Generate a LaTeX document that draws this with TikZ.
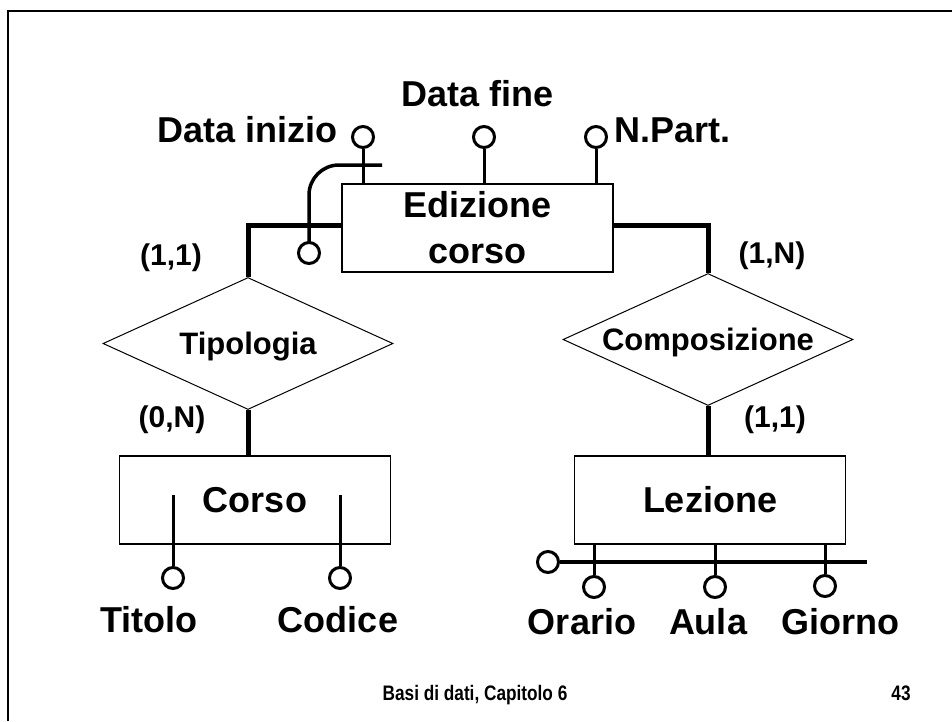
\documentclass[tikz,border=0pt]{standalone}
\usepackage{fontspec}
\setmainfont{Liberation Sans}
\newfontfamily\narrowfont{Liberation Sans}[FakeStretch=0.82]
\usetikzlibrary{shapes.geometric}
\begin{document}
\begin{tikzpicture}[x=1pt,y=-1pt,
  ent/.style={draw,line width=1.3pt,minimum width=271pt,minimum height=88pt,inner sep=0pt,
    font=\fontsize{36}{46}\selectfont\bfseries,align=center},
  rel/.style={draw,diamond,aspect=2.2,line width=1pt,minimum width=290pt,minimum height=132pt,
    inner sep=0pt,font=\fontsize{31}{36}\selectfont\bfseries,text depth=0pt},
  attr/.style={circle,draw,fill=white,line width=3pt,minimum size=21pt,inner sep=0pt},
  stem/.style={line width=3pt},
  idline/.style={line width=4pt},
  link/.style={line width=5pt},
  lbl/.style={font=\fontsize{36}{40}\selectfont\bfseries,inner sep=0pt,anchor=base},
  card/.style={font=\fontsize{30}{34}\selectfont\bfseries,inner sep=0pt,anchor=base},
  foot/.style={font=\narrowfont\fontsize{21}{24}\selectfont\bfseries,inner sep=0pt,anchor=base},
]
\useasboundingbox (0,0) rectangle (952,721);
% frame
\draw[line width=2.5pt] (8,721) -- (8,11) -- (952,11);

% entities and relationships
\node[ent] (ed) at (477.5,228) {Edizione\\corso};
\node[ent] (corso) at (255,500) {Corso};
\node[ent] (lez) at (710,500) {Lezione};
\node[rel] (tip) at (248,343.5) {Tipologia};
\node[rel] (comp) at (708,339.5) {Composizione};

% links
\draw[link] ([yshift=3pt]ed.west) -| (tip.north);
\draw[link] (tip.south) -- (tip.south |- corso.north);
\draw[link] ([yshift=3pt]ed.east) -| (comp.north);
\draw[link] (comp.south) -- (comp.south |- lez.north);

% cardinalities
\node[card] (c1) at (171,265) {(1,1)};
\node[card] (c2) at (172,427) {(0,N)};
\node[card] (c3) at (772,263) {(1,N)};
\node[card] (c4) at (775,427) {(1,1)};

% Edizione corso attributes
\node[attr] (di) at (363,137) {};
\node[attr] (df) at (484,137) {};
\node[attr] (np) at (596,137) {};
\draw[stem] (di) -- (di |- ed.north);
\draw[stem] (df) -- (df |- ed.north);
\draw[stem] (np) -- (np |- ed.north);
\node[lbl,anchor=base east] (tdi) at (338,142) {Data inizio};
\node[lbl] (tdf) at (478,106) {Data fine};
\node[lbl,anchor=base west] (tnp) at (614,142) {N.Part.};

% external identifier of Edizione corso
\coordinate (ide) at (382,165);
\draw[stem,line width=3.5pt,rounded corners=30pt] (309,242) |- (ide);
\node[attr] (idc) at (309,253) {};

% Corso attributes
\coordinate (tits) at (173,495);
\coordinate (cods) at (340,495);
\node[attr] (tit) at (173,578) {};
\node[attr] (cod) at (340,578) {};
\draw[stem] (tits) -- (tit);
\draw[stem] (cods) -- (cod);
\node[lbl] (ttit) at (149,632) {Titolo};
\node[lbl] (tcod) at (338,632) {Codice};

% Lezione attributes and identifier
\coordinate (idle) at (867,562);
\node[attr] (idl) at (548,562) {};
\draw[idline] (idl) -- (idle);
\node[attr] (ora) at (594,587) {};
\node[attr] (aul) at (715,587) {};
\node[attr] (gio) at (825,586) {};
\draw[stem] (ora |- lez.south) -- (ora);
\draw[stem] (aul |- lez.south) -- (aul);
\draw[stem] (gio |- lez.south) -- (gio);
\node[lbl] (tora) at (582,634) {Orario};
\node[lbl] (taul) at (708,634) {Aula};
\node[lbl] (tgio) at (840,634) {Giorno};

% footer
\node[foot] (ft) at (475,700) {Basi di dati, Capitolo 6};
\node[foot] (pg) at (901,700) {43};
\end{tikzpicture}
\end{document}
